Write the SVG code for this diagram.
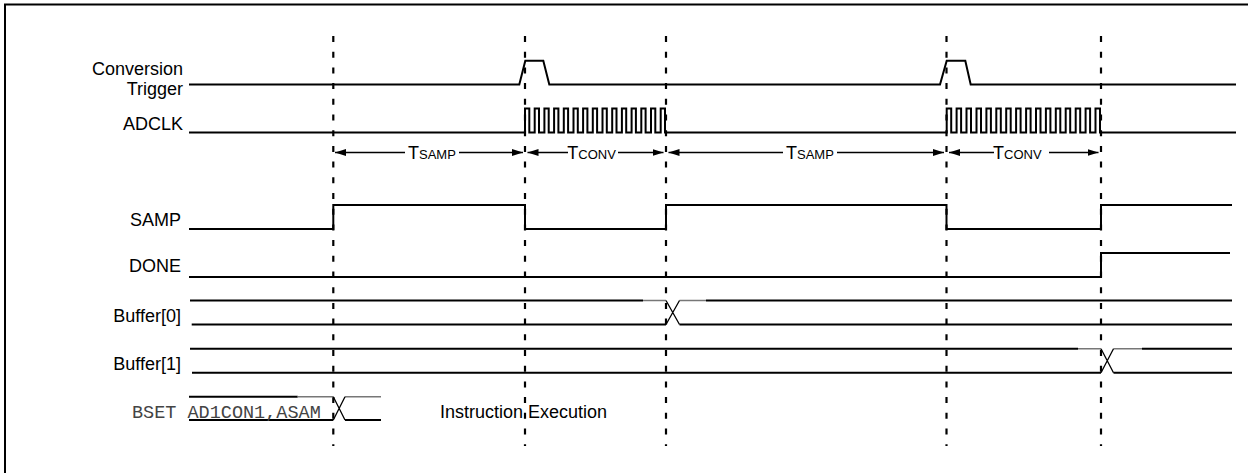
<svg xmlns="http://www.w3.org/2000/svg" width="1248" height="473" viewBox="0 0 1248 473">
<style>
.lbl{font-family:"Liberation Sans",Arial,sans-serif;font-size:18px;fill:#000;text-anchor:end}
.txt{font-family:"Liberation Sans",Arial,sans-serif;font-size:18px;fill:#000}
.code{font-family:"Liberation Mono","Courier New",monospace;font-size:18.5px;fill:#444}
.sig{fill:none;stroke:#000;stroke-width:2}
.thin{fill:none;stroke:#000;stroke-width:1.3}
.gray{fill:none;stroke:#777;stroke-width:1.5}
.guide{fill:none;stroke:#000;stroke-width:2.2;stroke-dasharray:6 9.7}
.dim{fill:none;stroke:#000;stroke-width:1.6}
.big{font-size:18px}
.sm{font-size:13px}
</style>
<defs>
<marker id="ah" markerUnits="userSpaceOnUse" markerWidth="12" markerHeight="8" refX="11" refY="4" orient="auto-start-reverse">
<path d="M0,0.5 L11,4 L0,7.5 Z" fill="#000"/>
</marker>
</defs>

<path id="frame" d="M5,473 V4.5 H1248" fill="none" stroke="#000" stroke-width="2"/>

<g id="guides">
<line class="guide" x1="333.3" y1="36" x2="333.3" y2="446"/>
<line class="guide" x1="525" y1="36" x2="525" y2="446"/>
<line class="guide" x1="666" y1="36" x2="666" y2="446"/>
<line class="guide" x1="946.5" y1="36" x2="946.5" y2="446"/>
<line class="guide" x1="1101" y1="36" x2="1101" y2="446"/>
</g>

<g id="trigger">
<text class="lbl" x="183" y="75">Conversion</text>
<text class="lbl" x="183" y="95">Trigger</text>
<path class="sig" d="M189,84.5 H519.3 L525.3,60.7 H543.3 L549.3,84.5 H940 L946.7,60.7 H965.3 L970.7,84.5 H1236"/>
</g>

<g id="adclk">
<text class="lbl" x="183" y="130">ADCLK</text>
<path class="sig" d="M189,132.5 H525 V108.5 H529.3 V132.5 H534.7 V108.5 H539 V132.5 H544.4 V108.5 H548.7 V132.5 H554.1 V108.5 H558.4 V132.5 H563.8 V108.5 H568.1 V132.5 H573.5 V108.5 H577.8 V132.5 H583.1 V108.5 H587.4 V132.5 H592.8 V108.5 H597.1 V132.5 H602.5 V108.5 H606.8 V132.5 H612.2 V108.5 H616.5 V132.5 H621.9 V108.5 H626.2 V132.5 H631.6 V108.5 H635.9 V132.5 H641.3 V108.5 H645.6 V132.5 H651 V108.5 H655.3 V132.5 H660.7 V108.5 H665 V132.5 H946.7 V108.5 H951.2 V132.5 H956.6 V108.5 H961.1 V132.5 H966.5 V108.5 H971 V132.5 H976.5 V108.5 H981 V132.5 H986.4 V108.5 H990.9 V132.5 H996.3 V108.5 H1000.8 V132.5 H1006.2 V108.5 H1010.7 V132.5 H1016.1 V108.5 H1020.6 V132.5 H1026.1 V108.5 H1030.6 V132.5 H1036 V108.5 H1040.5 V132.5 H1045.9 V108.5 H1050.4 V132.5 H1055.8 V108.5 H1060.3 V132.5 H1065.7 V108.5 H1070.2 V132.5 H1075.7 V108.5 H1080.2 V132.5 H1085.6 V108.5 H1090.1 V132.5 H1095.5 V108.5 H1100 V132.5 H1236"/>
</g>

<g id="intervals">
<line class="dim" x1="335" y1="152.5" x2="405" y2="152.5" marker-start="url(#ah)"/>
<text class="txt" x="408" y="158.5"><tspan class="big">T</tspan><tspan class="sm">SAMP</tspan></text>
<line class="dim" x1="459" y1="152.5" x2="523" y2="152.5" marker-end="url(#ah)"/>

<line class="dim" x1="527.5" y1="152.5" x2="568" y2="152.5" marker-start="url(#ah)"/>
<text class="txt" x="567.3" y="158.5"><tspan class="big">T</tspan><tspan class="sm">CONV</tspan></text>
<line class="dim" x1="618" y1="152.5" x2="663.5" y2="152.5" marker-end="url(#ah)"/>

<line class="dim" x1="668.5" y1="152.5" x2="783" y2="152.5" marker-start="url(#ah)"/>
<text class="txt" x="786" y="158.5"><tspan class="big">T</tspan><tspan class="sm">SAMP</tspan></text>
<line class="dim" x1="837" y1="152.5" x2="944" y2="152.5" marker-end="url(#ah)"/>

<line class="dim" x1="949" y1="152.5" x2="994" y2="152.5" marker-start="url(#ah)"/>
<text class="txt" x="993" y="158.5"><tspan class="big">T</tspan><tspan class="sm">CONV</tspan></text>
<line class="dim" x1="1049" y1="152.5" x2="1098.5" y2="152.5" marker-end="url(#ah)"/>
</g>

<g id="samp">
<text class="lbl" x="181" y="226">SAMP</text>
<path class="sig" d="M189,229 H333.3 V205 H525 V229 H666 V205 H946.5 V229 H1101 V205 H1232"/>
</g>

<g id="done">
<text class="lbl" x="181" y="272">DONE</text>
<path class="sig" d="M189,277 H1101 V253 H1230"/>
</g>

<g id="buffer0">
<text class="lbl" x="181" y="322">Buffer[0]</text>
<path class="sig" d="M190,300.5 H643"/>
<path class="gray" d="M643,300.5 H666 M679.5,300.5 H706"/>
<path class="sig" d="M706,300.5 H1232"/>
<path class="sig" d="M191.7,324.5 H666 M679.5,324.5 H1232"/>
<path class="thin" d="M666,300.5 L679.5,324.5 M666,324.5 L679.5,300.5"/>
</g>

<g id="buffer1">
<text class="lbl" x="181" y="369.5">Buffer[1]</text>
<path class="sig" d="M190,348.8 H1078"/>
<path class="gray" d="M1078,348.8 H1101 M1113.5,348.8 H1142"/>
<path class="sig" d="M1142,348.8 H1232"/>
<path class="sig" d="M192,372.8 H1101 M1113.5,372.8 H1232"/>
<path class="thin" d="M1101,348.8 L1113.5,372.8 M1101,372.8 L1113.5,348.8"/>
</g>

<g id="instr">
<path class="sig" d="M189,396.8 H297.7"/>
<path class="gray" d="M297.7,396.8 H333.3 M345,396.8 H381"/>
<path class="sig" d="M189,420 H333.3 M345,420 H381"/>
<path class="thin" d="M333.3,396.8 L345,420 M333.3,420 L345,396.8"/>
<text class="code" x="132" y="418">BSET AD1CON1,ASAM</text>
<text class="txt" x="440" y="418">Instruction Execution</text>
</g>
</svg>
